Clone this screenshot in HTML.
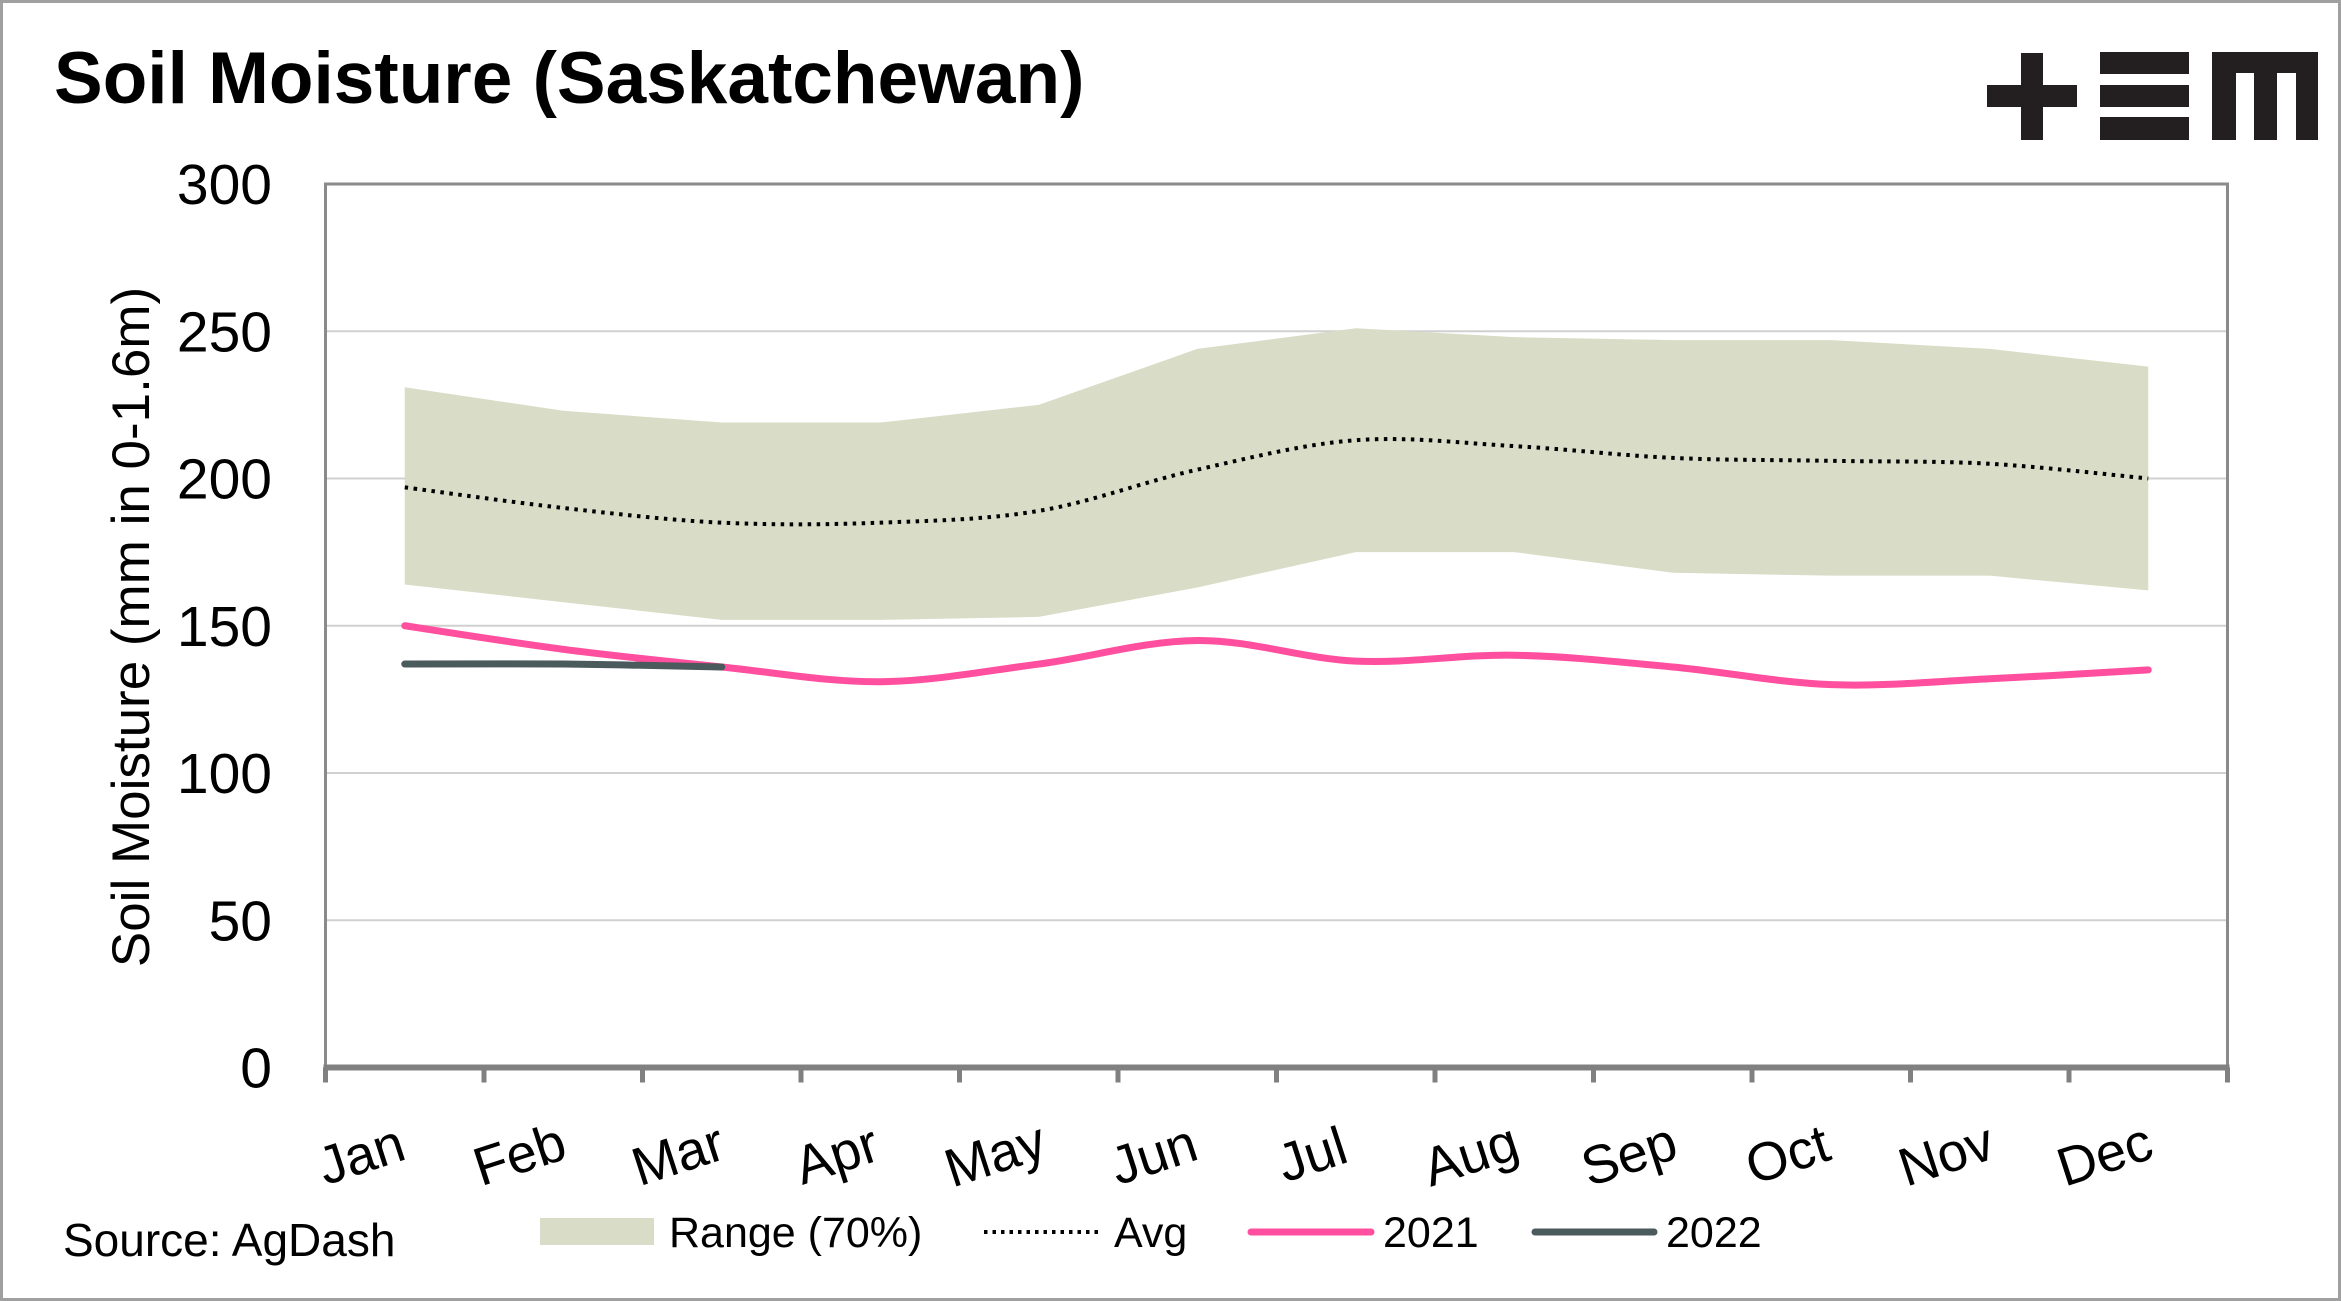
<!DOCTYPE html>
<html><head><meta charset="utf-8"><style>
html,body{margin:0;padding:0;background:#fff}
svg{display:block;font-family:"Liberation Sans",sans-serif}
</style></head><body>
<svg id="chart" width="2341" height="1301" viewBox="0 0 2341 1301" xmlns="http://www.w3.org/2000/svg">
<rect x="1.5" y="1.5" width="2338" height="1298" fill="#fff" stroke="#a0a0a0" stroke-width="3"/>
<text x="54" y="103" font-size="73" font-weight="bold" fill="#000">Soil Moisture (Saskatchewan)</text>
<g fill="#231f20">
<rect x="1987" y="85" width="90" height="22"/><rect x="2021" y="53" width="22" height="87"/>
<rect x="2100" y="52" width="89" height="22"/><rect x="2100" y="85" width="89" height="22"/><rect x="2100" y="117" width="89" height="23"/>
<path d="M2212 52H2318V140H2296V73H2277V140H2254V73H2236V140H2212Z"/>
</g>
<g id="plot"></g>
<text transform="translate(149,627) rotate(-90)" text-anchor="middle" font-size="53" fill="#000">Soil Moisture (mm in 0-1.6m)</text>
<text x="63" y="1256" font-size="46" fill="#000">Source: AgDash</text>
<g font-size="43" fill="#000">
<rect x="540" y="1218" width="114" height="27" fill="#d9dcc6"/>
<text x="669" y="1247">Range (70%)</text>
<line x1="984" y1="1232" x2="1102" y2="1232" stroke="#000" stroke-width="4" stroke-dasharray="3.5 5"/>
<text x="1114" y="1247">Avg</text>
<line x1="1251" y1="1232" x2="1371" y2="1232" stroke="#ff4f9e" stroke-width="7" stroke-linecap="round"/>
<text x="1383" y="1247">2021</text>
<line x1="1535" y1="1232" x2="1654" y2="1232" stroke="#4b5a5c" stroke-width="7" stroke-linecap="round"/>
<text x="1666" y="1247">2022</text>
</g>
</svg>
<script>
const months = ["Jan","Feb","Mar","Apr","May","Jun","Jul","Aug","Sep","Oct","Nov","Dec"];
const rangeUpper = [231,223,219,219,225,244,251,248,247,247,244,238];
const rangeLower = [164,158,152,152,153,163,175,175,168,167,167,162];
const avgValues = [197,190,185,185,189,203,213,211,207,206,205,200];
const values2021 = [150,142,136,131,137,145,138,140,136,130,132,135];
const values2022 = [137,137,136];
const yTicks = [0,50,100,150,200,250,300];

const NS="http://www.w3.org/2000/svg";
const L=325.5,R=2227.5,T=184,B=1067.5,YMAX=300;
const bw=(R-L)/months.length;
const x=i=>L+bw*(i+0.5);
const y=v=>B-(v/YMAX)*(B-T);
const plot=document.getElementById('plot');
function mk(tag,attrs,parent){const e=document.createElementNS(NS,tag);for(const k in attrs)e.setAttribute(k,attrs[k]);(parent||plot).appendChild(e);return e;}
function smooth(vals){const p=vals.map((v,i)=>[x(i),y(v)]);let d=`M${p[0][0]},${p[0][1]}`;
for(let i=0;i<p.length-1;i++){const p0=p[i-1]||p[i],p1=p[i],p2=p[i+1],p3=p[i+2]||p2;
const c1=[p1[0]+(p2[0]-p0[0])/6,p1[1]+(p2[1]-p0[1])/6],c2=[p2[0]-(p3[0]-p1[0])/6,p2[1]-(p3[1]-p1[1])/6];
d+=` C${c1[0]},${c1[1]} ${c2[0]},${c2[1]} ${p2[0]},${p2[1]}`;}return d;}

yTicks.forEach(t=>{
  if(t>0&&t<YMAX){const g=mk('line',{x1:L,x2:R,y1:y(t),y2:y(t),stroke:'#d0d0d0','stroke-width':2});
  
  }
  const lb=mk('text',{x:272,y:y(t)+20,'text-anchor':'end','font-size':57,fill:'#000'});
  lb.textContent=t;
  
  
});
let band='M'+rangeUpper.map((v,i)=>x(i)+','+y(v)).join(' L')+' L'+rangeLower.map((v,i)=>x(i)+','+y(v)).reverse().join(' L')+'Z';
const bandEl=mk('path',{d:band,fill:'#d9dcc6'});


const avgEl=mk('path',{d:smooth(avgValues),fill:'none',stroke:'#000','stroke-width':4,'stroke-dasharray':'3.5 5.5'});


const l21=mk('path',{d:smooth(values2021),fill:'none',stroke:'#ff4f9e','stroke-width':7,'stroke-linecap':'round'});


const l22=mk('path',{d:smooth(values2022),fill:'none',stroke:'#4b5a5c','stroke-width':7,'stroke-linecap':'round'});


const fr=mk('path',{d:`M${L},${B} V${T} H${R} V${B}`,fill:'none',stroke:'#8a8a8a','stroke-width':3});


const xa=mk('line',{x1:L-2,x2:R+2,y1:B,y2:B,stroke:'#808080','stroke-width':6});


for(let i=0;i<=months.length;i++){const tk=mk('line',{x1:L+bw*i,x2:L+bw*i,y1:B,y2:B+15,stroke:'#808080','stroke-width':5});

}
months.forEach((m,i)=>{const t=mk('text',{transform:`translate(${x(i)-38},1172) rotate(-18)`,'text-anchor':'middle','font-size':54,fill:'#000'});
t.textContent=m;

});
</script>
</body></html>
